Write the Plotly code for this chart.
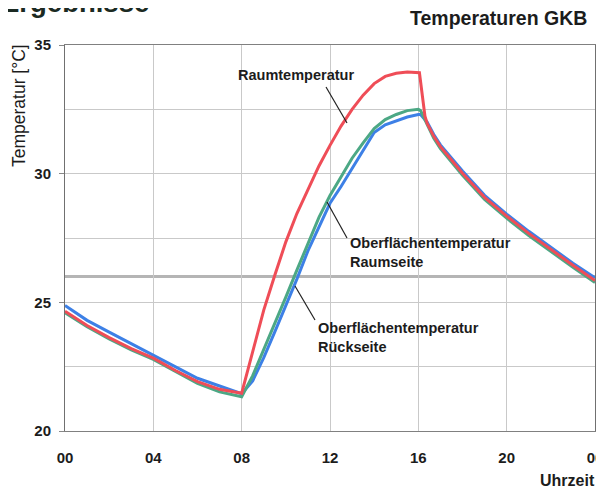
import plotly.graph_objects as go

# ---------------- data ----------------
hours_red = [0, 1, 2, 3, 4, 5, 6, 7, 8, 8.5, 9, 9.5, 10, 10.5, 11, 11.5, 12, 12.5, 13, 13.5,
             14, 14.5, 15, 15.5, 16.05, 16.3, 16.4, 16.7, 17, 18, 19, 20, 21, 22, 23, 24]
raum = [24.65, 24.1, 23.63, 23.2, 22.83, 22.35, 21.92, 21.62, 21.47, 23.1, 24.7, 26.05, 27.35, 28.45,
        29.4, 30.3, 31.1, 31.85, 32.5, 33.05, 33.5, 33.78, 33.9, 33.95, 33.92, 32.23, 31.95, 31.45,
        31.05, 30.02, 29.08, 28.35, 27.68, 27.05, 26.44, 25.85]

hours_surf = [0, 1, 2, 3, 4, 5, 6, 7, 8, 8.5, 9, 9.5, 10, 10.5, 11, 11.5, 12, 12.5, 13, 13.5,
              14, 14.5, 15, 15.5, 16, 16.1, 16.4, 16.7, 17, 18, 19, 20, 21, 22, 23, 24]
raumseite = [24.6, 24.05, 23.58, 23.15, 22.78, 22.3, 21.85, 21.52, 21.33, 22.15, 23.15, 24.15, 25.2,
             26.25, 27.3, 28.3, 29.15, 29.9, 30.6, 31.2, 31.75, 32.1, 32.3, 32.45, 32.5, 32.45, 31.9,
             31.38, 30.97, 29.94, 29.0, 28.27, 27.6, 26.97, 26.36, 25.77]
rueckseite = [24.88, 24.3, 23.84, 23.4, 22.96, 22.5, 22.05, 21.75, 21.45, 21.95, 22.85, 23.85, 24.85,
              25.9, 27.0, 27.95, 28.85, 29.5, 30.2, 30.95, 31.6, 31.9, 32.05, 32.2, 32.3, 32.3, 32.0,
              31.52, 31.12, 30.1, 29.16, 28.43, 27.76, 27.13, 26.52, 25.95]

ref_line = 26
x_tickvals = [0, 4, 8, 12, 16, 20, 24]
x_ticktext = ["00", "04", "08", "12", "16", "20", "00"]
y_tickvals = [20, 25, 30, 35]
y_minor = [22.5, 27.5, 32.5]

FONT = "Liberation Sans, Arial, sans-serif"
TXT = "#1c1c1c"

# plot area in page pixels (the page body adds an 8px offset)
PL, PT, PW, PH = 65, 45, 530, 386
OFF = 8


def px(x):
    return (x - PL) / PW


def py(y):
    return 1 - (y - PT) / PH


fig = go.Figure()

fig.add_hline(y=ref_line, line=dict(color="#b5b5b5", width=3), layer="below")

fig.add_trace(go.Scatter(x=hours_surf, y=rueckseite, mode="lines",
                         line=dict(color="#3D80E6", width=3), name="Oberflächentemperatur Rückseite"))
fig.add_trace(go.Scatter(x=hours_surf, y=raumseite, mode="lines",
                         line=dict(color="#4CA885", width=3), name="Oberflächentemperatur Raumseite"))
fig.add_trace(go.Scatter(x=hours_red, y=raum, mode="lines",
                         line=dict(color="#EF4D57", width=3), name="Raumtemperatur"))

fig.update_layout(
    width=604, height=490,
    margin=dict(l=PL - OFF, r=604 - (PL - OFF) - PW, t=PT - OFF, b=490 - (PT - OFF) - PH,
                autoexpand=False),
    paper_bgcolor="white", plot_bgcolor="white",
    showlegend=False,
    font=dict(family=FONT, color=TXT),
)

fig.update_xaxes(
    range=[0, 24], tickvals=x_tickvals, ticktext=x_ticktext,
    showgrid=True, gridcolor="#c9c9c9", gridwidth=1,
    showline=True, linecolor="#808080", linewidth=1, mirror=True,
    ticks="", ticklabelstandoff=13,
    tickfont=dict(family=FONT, size=15, color=TXT, weight="bold"),
    zeroline=False, automargin=False,
)
fig.update_yaxes(
    range=[20, 35], tickvals=y_tickvals,
    showgrid=True, gridcolor="#c9c9c9", gridwidth=1,
    minor=dict(tickvals=y_minor, showgrid=True, gridcolor="#c9c9c9", gridwidth=1, ticks=""),
    showline=True, linecolor="#707070", linewidth=1, mirror=True,
    ticks="outside", ticklen=5, tickcolor="#888888", ticklabelstandoff=5,
    tickfont=dict(family=FONT, size=15, color=TXT, weight="bold"),
    zeroline=False, automargin=False,
)


def ann(text, x, y, size=14.5, xanchor="left", yanchor="middle", weight="bold", color=TXT, **kw):
    fig.add_annotation(text=text, x=px(x), y=py(y), xref="paper", yref="paper", showarrow=False,
                       xanchor=xanchor, yanchor=yanchor, align="left",
                       font=dict(family=FONT, size=size, color=color, weight=weight), **kw)


# page heading (cut at the top) and chart title
ann("Ergebnisse", -1, 20, size=27.5, yanchor="bottom", color="#1b2a22")
ann("Temperaturen GKB", 589, 18, size=19.5, xanchor="right")

# axis titles
ann("Temperatur [°C]", 19, 106, size=17.5, xanchor="center", weight="normal", textangle=-90)
ann("Uhrzeit", 567, 480, size=16, xanchor="center")

# curve labels with pointer lines
ann("Raumtemperatur", 236, 75)
ann("Oberflächentemperatur<br>Raumseite", 348, 252)
ann("Oberflächentemperatur<br>Rückseite", 316, 337)

for (x0, y0, x1, y1) in [(326, 87, 347, 123), (327, 202, 347, 238), (295, 286, 315, 320)]:
    fig.add_shape(type="line", xref="paper", yref="paper",
                  x0=px(x0), y0=py(y0), x1=px(x1), y1=py(y1),
                  line=dict(color="#222222", width=1.2))

fig.write_html("out.html")
